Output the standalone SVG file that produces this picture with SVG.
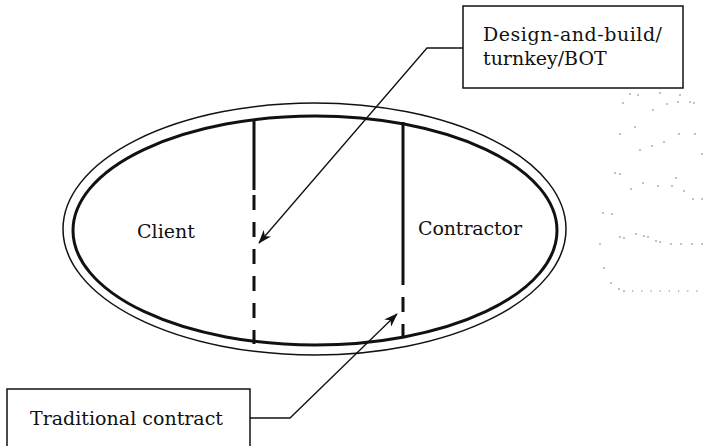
<svg xmlns="http://www.w3.org/2000/svg" width="703" height="446" viewBox="0 0 703 446">
  <defs>
    <style>
      .lbl { font-family: "DejaVu Serif", "Liberation Serif", serif; font-size: 19px; fill: #111; }
      .box { fill: #fff; stroke: #111; stroke-width: 1.5; }
      .leader { fill: none; stroke: #111; stroke-width: 1.3; }
      .divider { fill: none; stroke: #111; stroke-width: 3; }
      .speck { fill: #777; }
    </style>
    <marker id="arrow" viewBox="0 0 14 10" refX="13" refY="5" markerWidth="14" markerHeight="10" markerUnits="userSpaceOnUse" orient="auto">
      <path d="M0,0 L14,5 L0,10 L4,5 Z" fill="#111"/>
    </marker>
  </defs>

  <rect width="703" height="446" fill="#fff"/>

  <!-- organisation boundary: double ellipse -->
  <g id="boundary">
    <ellipse cx="314.5" cy="229" rx="251.5" ry="126" fill="none" stroke="#111" stroke-width="1.5"/>
    <ellipse cx="315" cy="230.5" rx="242" ry="114.5" fill="none" stroke="#111" stroke-width="3"/>
  </g>

  <!-- responsibility divides -->
  <g id="divides">
    <path class="divider" d="M254,119 V190"/>
    <path class="divider" d="M254,195 V344" stroke-dasharray="15 12"/>
    <path class="divider" d="M403,122 V285"/>
    <path class="divider" d="M403,297 V338" stroke-dasharray="15 12"/>
  </g>

  <g id="client">
    <text class="lbl" x="137" y="238" textLength="58">Client</text>
  </g>

  <g id="contractor">
    <text class="lbl" x="418" y="235" textLength="104">Contractor</text>
  </g>

  <g id="dbb">
    <rect class="box" x="463" y="6" width="220" height="82"/>
    <text class="lbl" x="483" y="41" textLength="179">Design-and-build/</text>
    <text class="lbl" x="483" y="65">turnkey/BOT</text>
  </g>

  <g id="traditional">
    <rect class="box" x="7" y="389" width="243" height="70"/>
    <text class="lbl" x="30" y="425" textLength="193">Traditional contract</text>
  </g>

  <g id="connectors">
    <path class="leader" d="M463,48 H427 L259,243" marker-end="url(#arrow)"/>
    <path class="leader" d="M250,418 H290 L397,314" marker-end="url(#arrow)"/>
  </g>

  <!-- faint dotted traces at right edge -->
  <g id="specks">
    <circle class="speck" cx="630" cy="94" r="0.8"/>
    <circle class="speck" cx="660" cy="93" r="0.8"/>
    <circle class="speck" cx="680" cy="95" r="0.8"/>
    <circle class="speck" cx="638" cy="95" r="0.8"/>
    <circle class="speck" cx="623" cy="103" r="0.8"/>
    <circle class="speck" cx="667" cy="104" r="0.8"/>
    <circle class="speck" cx="678" cy="102" r="0.8"/>
    <circle class="speck" cx="690" cy="102" r="0.8"/>
    <circle class="speck" cx="694" cy="103" r="0.8"/>
    <circle class="speck" cx="653" cy="110" r="0.8"/>
    <circle class="speck" cx="635" cy="127" r="0.8"/>
    <circle class="speck" cx="620" cy="134" r="0.8"/>
    <circle class="speck" cx="679" cy="134" r="0.8"/>
    <circle class="speck" cx="695" cy="134" r="0.8"/>
    <circle class="speck" cx="664" cy="142" r="0.8"/>
    <circle class="speck" cx="652" cy="146" r="0.8"/>
    <circle class="speck" cx="640" cy="150" r="0.8"/>
    <circle class="speck" cx="702" cy="154" r="0.8"/>
    <circle class="speck" cx="615" cy="173" r="0.8"/>
    <circle class="speck" cx="620" cy="174" r="0.8"/>
    <circle class="speck" cx="643" cy="183" r="0.8"/>
    <circle class="speck" cx="631" cy="189" r="0.8"/>
    <circle class="speck" cx="658" cy="186" r="0.8"/>
    <circle class="speck" cx="672" cy="186" r="0.8"/>
    <circle class="speck" cx="676" cy="178" r="0.8"/>
    <circle class="speck" cx="684" cy="191" r="0.8"/>
    <circle class="speck" cx="693" cy="199" r="0.8"/>
    <circle class="speck" cx="702" cy="199" r="0.8"/>
    <circle class="speck" cx="603" cy="213" r="0.8"/>
    <circle class="speck" cx="612" cy="214" r="0.8"/>
    <circle class="speck" cx="620" cy="237" r="0.8"/>
    <circle class="speck" cx="624" cy="238" r="0.8"/>
    <circle class="speck" cx="636" cy="234" r="0.8"/>
    <circle class="speck" cx="644" cy="236" r="0.8"/>
    <circle class="speck" cx="648" cy="237" r="0.8"/>
    <circle class="speck" cx="656" cy="241" r="0.8"/>
    <circle class="speck" cx="660" cy="242" r="0.8"/>
    <circle class="speck" cx="600" cy="244" r="0.8"/>
    <circle class="speck" cx="671" cy="244" r="0.8"/>
    <circle class="speck" cx="681" cy="244" r="0.8"/>
    <circle class="speck" cx="692" cy="244" r="0.8"/>
    <circle class="speck" cx="702" cy="244" r="0.8"/>
    <circle class="speck" cx="604" cy="268" r="0.8"/>
    <circle class="speck" cx="611" cy="283" r="0.8"/>
    <circle class="speck" cx="619" cy="289" r="0.8"/>
    <circle class="speck" cx="624" cy="291" r="0.8"/>
    <path d="M632,291 H702" stroke="#777" stroke-width="1.2" stroke-dasharray="1.2 8"/>
  </g>
</svg>
